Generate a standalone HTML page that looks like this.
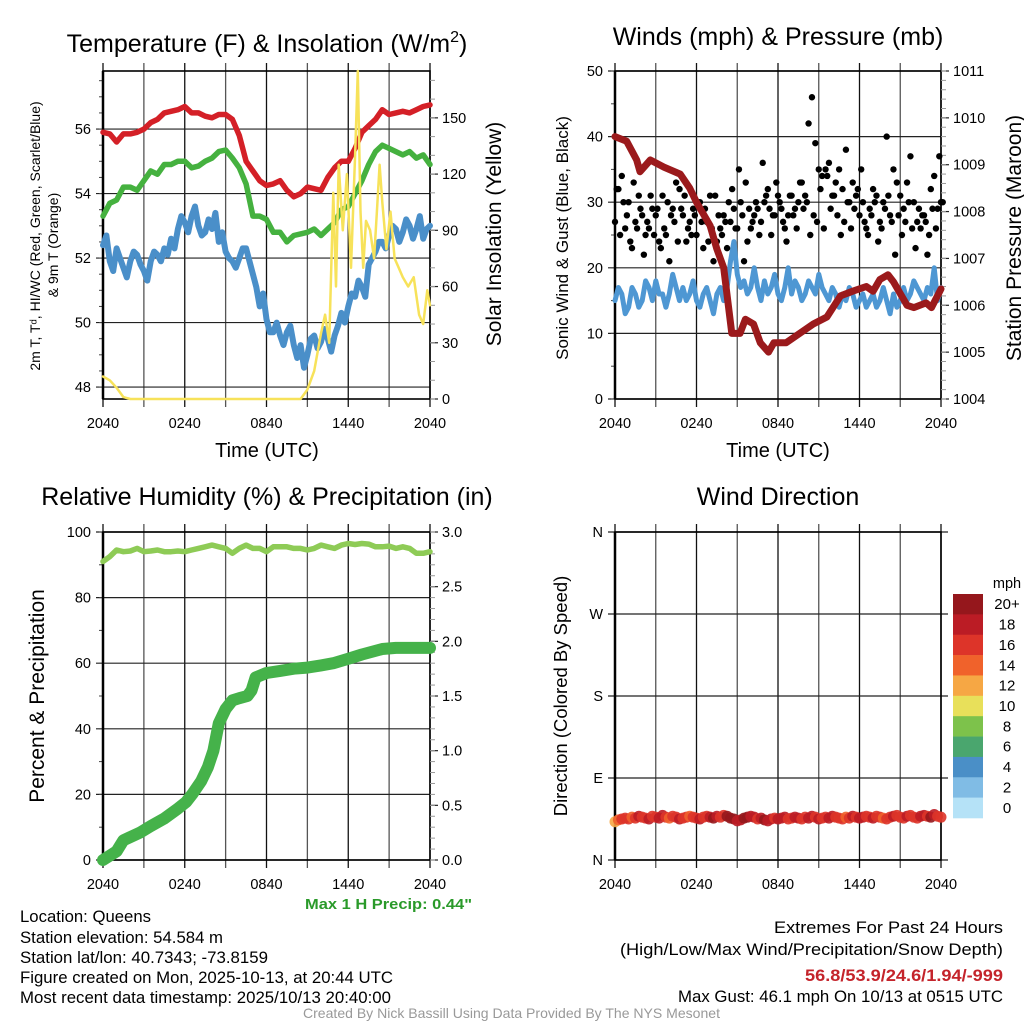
<!DOCTYPE html>
<html><head><meta charset="utf-8">
<style>
html,body{margin:0;padding:0;background:#fff;}
#wrap{position:relative;width:1024px;height:1024px;overflow:hidden;font-family:"Liberation Sans",sans-serif;}
svg text{font-family:"Liberation Sans",sans-serif;}
</style></head>
<body>
<div id="wrap">
<svg id="chart" width="1024" height="1024" xmlns="http://www.w3.org/2000/svg"></svg>
</div>
<script>
// ---------- DATA ----------
const xTickLabels = ["2040","0240","0840","1440","2040"];
// evenly spaced series over 24 h starting at 2040 UTC
const tempRed = [55.9,55.85,55.6,55.85,55.85,55.9,56.0,56.2,56.3,56.5,56.55,56.6,56.7,56.5,56.5,56.4,56.35,56.45,56.45,56.3,55.8,55.0,54.7,54.4,54.25,54.3,54.4,54.1,53.9,54.0,54.2,54.15,54.1,54.5,54.8,55.0,55.0,55.4,55.9,56.1,56.3,56.6,56.45,56.5,56.55,56.5,56.6,56.7,56.75];
const hiGreen = [53.3,53.7,53.8,54.2,54.2,54.1,54.4,54.7,54.6,54.9,54.9,55.0,55.0,54.8,54.85,55.0,55.1,55.3,55.35,55.1,54.8,54.3,53.3,53.3,53.2,52.8,52.8,52.5,52.7,52.75,52.8,52.9,52.7,52.9,53.1,53.5,53.6,54.0,54.4,54.9,55.3,55.5,55.4,55.3,55.2,55.3,55.1,55.2,54.9];
const dewBlue = [52.4,52.7,51.9,51.6,52.3,52.0,51.7,51.4,51.9,52.2,52.1,51.8,51.6,51.3,51.9,52.2,52.1,51.9,52.3,52.1,52.6,52.3,52.9,53.3,53.1,52.8,53.3,53.6,53.0,52.7,52.8,53.2,52.9,53.4,52.5,52.8,52.2,52.0,51.9,51.7,52.0,52.3,52.3,51.9,51.5,51.1,50.5,50.9,50.1,49.7,49.7,50.0,49.6,49.3,49.7,49.9,49.3,48.9,49.3,48.6,49.0,49.5,49.6,49.2,49.4,49.8,49.5,49.1,49.6,49.9,50.3,50.0,50.5,50.9,50.8,51.3,51.1,50.8,51.8,52.0,52.2,52.5,52.5,52.3,52.7,53.0,52.9,52.5,52.8,53.2,53.0,52.6,52.9,53.3,52.6,52.9,53.0];
const solarTimes = [0,0.5,1,1.5,2,14.5,15,15.5,16,16.3,16.6,16.9,17.1,17.3,17.6,17.9,18.2,18.5,18.7,18.9,19.1,19.3,19.6,19.9,20.1,20.3,20.5,20.8,21.1,21.4,21.7,22.0,22.4,22.8,23.2,23.5,23.8,24];
const solarVals  = [12,10,6,1,0,0,5,15,35,45,30,110,60,125,90,120,70,130,175,100,70,95,90,75,100,125,105,80,100,75,70,65,60,65,45,40,58,50];
const sonicWind = [15,17,16,13,14,17,16,14,15,18,17,15,18,16,16,14,16,19,17,15,17,15,16,18,15,14,16,17,15,13,16,17,15,17,21,24,19,17,18,16,17,20,17,15,18,16,17,19,16,15,17,20,16,18,17,15,16,18,17,16,19,17,16,15,17,16,14,16,15,17,16,14,15,16,14,15,16,14,15,17,15,13,16,14,15,17,15,16,18,17,16,15,17,16,20,15,17];
const presTimes = [0,0.86,1.6,1.84,2.6,3.6,4.8,5.5,6.0,7.0,7.5,8.0,8.6,9.2,9.6,10.2,10.7,11.3,11.7,12.6,13.6,14.6,15.6,16.6,17.5,18.5,19,19.5,20.1,20.5,21.5,22,22.9,23.3,24];
const presVals  = [1009.6,1009.5,1009.1,1008.85,1009.1,1008.95,1008.8,1008.5,1008.2,1007.7,1007.2,1006.8,1005.4,1005.4,1005.7,1005.6,1005.2,1005.0,1005.2,1005.2,1005.4,1005.6,1005.75,1006.2,1006.3,1006.4,1006.3,1006.55,1006.65,1006.5,1006.0,1005.95,1006.05,1005.95,1006.35];
const gusts = [27,32,34,26,30,23,27,31,28,25,26,29,28,24,31,25,21,29,33,32,28,24,27,29,25,30,23,27,31,21,24,26,28,23,27,29,26,30,21,24,26,28,29,27,30,32,25,28,31,29,26,28,31,29,30,33,31,42,46,39,35,34,35,36,31,33,35,32,38,30,33,31,28,30,26,29,32,31,27,30,40,28,35,33,31,29,33,37,30,27,26,28,22,32,34,29,30];
const gustsB = [32,25,30,28,24,33,26,29,22,27,31,25,29,23,26,30,28,27,24,29,31,26,25,28,30,27,29,24,26,31,28,25,27,30,32,26,35,28,33,29,27,30,25,36,31,29,28,33,30,27,24,31,28,26,33,29,30,25,28,27,32,26,34,29,31,28,25,27,30,26,29,32,35,27,25,28,30,24,26,29,31,27,22,28,25,27,30,26,23,29,28,27,25,29,26,37,30];
const rhVals = [91,92.5,94.5,94,94.2,95,94,94.2,94.5,94,94,94.2,94,94.5,95,95.5,96,95.5,95,93.5,95,96,95,95,94,95.5,95.5,95.5,95,95,94.5,95,96,95.5,95,96,96.5,96.2,96.5,96.3,95.5,95.5,95.7,95,95.5,95,93.5,93.5,94];
const precipTimes = [0,1,1.5,2.7,3.5,4.5,5.5,6.1,6.6,7.2,7.7,8.1,8.5,9.0,9.5,10,10.6,10.9,11.2,12,13,14,15,16,16.9,18,19,20.5,21.5,24];
const precipVals  = [0,0.08,0.18,0.25,0.31,0.38,0.47,0.53,0.61,0.72,0.85,1.0,1.25,1.38,1.46,1.48,1.5,1.55,1.67,1.71,1.73,1.75,1.76,1.78,1.8,1.84,1.88,1.93,1.94,1.94];
const windDir = [42,44,45,46,45,47,46,48,47,46,45,48,47,46,49,47,46,48,47,45,46,47,48,47,46,45,47,48,47,46,48,47,49,48,46,45,43,44,46,47,48,47,45,46,44,43,45,46,45,46,47,45,46,47,46,45,47,46,48,47,45,46,47,46,48,47,46,45,47,46,48,47,46,47,48,47,46,48,47,46,45,47,48,49,47,46,48,49,47,46,48,49,48,47,50,48,47];
const windSpd = [12,15,16,17,16,15,16,18,17,16,18,17,16,19,18,17,15,16,17,18,16,17,15,16,17,18,16,17,19,20,18,17,16,20,21,20,19,18,21,20,19,18,17,19,20,18,19,17,18,19,18,17,16,18,19,17,16,18,19,17,18,16,17,19,18,17,16,17,15,16,18,17,19,18,16,17,18,17,16,15,17,16,18,17,16,17,18,16,17,16,18,19,17,20,18,17,16];
const legendLabels = ["20+","18","16","14","12","10","8","6","4","2","0"];
const legendColors = ["#95171c","#bb1c25","#dd3429","#f0622b","#f6a744","#e8e05a","#7dc24b","#4aa66e","#4a8fc7","#80bce5","#b5e2f7"];

// ---------- DRAW ----------
const NS="http://www.w3.org/2000/svg";
const svg=document.getElementById('chart');
function el(tag,attrs,parent,txt){const e=document.createElementNS(NS,tag);for(const k in attrs)e.setAttribute(k,attrs[k]);if(txt!==undefined)e.textContent=txt;(parent||svg).appendChild(e);return e;}
function lin(d0,d1,r0,r1){return v=>r0+(v-d0)/(d1-d0)*(r1-r0);}
function evenTimes(n){const a=[];for(let i=0;i<n;i++)a.push(i*24/(n-1));return a;}

function panel(name,L,R,T,B){
  const g=el('g',{},svg);
  
  
  const x=lin(0,24,L,R);
  return {g,x,L,R,T,B};
}
function frame(p,yTicks,yScale,yLabels,minorStep,yMin,yMax,rightTicks,rScale,rLabels,rMinor,rMin,rMax){
  const g=el('g',{},p.g);
  
  
  for(let i=0;i<=8;i++){const xx=p.x(i*3);
    el('line',{x1:xx,x2:xx,y1:p.T-8,y2:p.B+8,stroke:i%2?'#555':'#111','stroke-width':1.3},g);}
  yTicks.forEach((v,i)=>{const yy=yScale(v);
    el('line',{x1:p.L-7,x2:p.R+(rightTicks?0:7),y1:yy,y2:yy,stroke:'#222','stroke-width':1.2},g);
    el('text',{x:p.L-12,y:yy+5,'text-anchor':'end','font-size':14.5,fill:'#000'},g,yLabels[i]);});
  if(minorStep){for(let v=yMin;v<=yMax+1e-9;v+=minorStep){const yy=yScale(v);el('line',{x1:p.L-4,x2:p.L,y1:yy,y2:yy,stroke:'#444','stroke-width':1},g);}}
  el('rect',{x:p.L,y:p.T,width:p.R-p.L,height:p.B-p.T,fill:'none',stroke:'#000','stroke-width':1.6},g);
  el('line',{x1:p.L,x2:p.L,y1:p.T,y2:p.B,stroke:'#000','stroke-width':2.5},g);
  if(rightTicks){
    rightTicks.forEach((v,i)=>{const yy=rScale(v);
      el('line',{x1:p.R,x2:p.R+8,y1:yy,y2:yy,stroke:'#222','stroke-width':1.2},g);
      el('text',{x:p.R+12,y:yy+5,'font-size':14.5,fill:'#000'},g,rLabels[i]);});
    if(rMinor){for(let v=rMin;v<=rMax+1e-9;v+=rMinor){const yy=rScale(v);el('line',{x1:p.R,x2:p.R+5,y1:yy,y2:yy,stroke:'#999','stroke-width':1},g);}}
  }
  xTickLabels.forEach((t,i)=>{el('text',{x:p.x(i*6),y:p.B+29,'text-anchor':'middle','font-size':14.5,fill:'#000'},g,t);});
}
function path(p,ts,vs,y,color,w,name){
  let d='';ts.forEach((t,i)=>{d+=(i?'L':'M')+p.x(t).toFixed(1)+','+y(vs[i]).toFixed(1);});
  const e=el('path',{d:d,fill:'none',stroke:color,'stroke-width':w,'stroke-linejoin':'round','stroke-linecap':'round'},p.g);
  
  
}
function title(x,y,txt,name,size){const e=el('text',{x:x,y:y,'text-anchor':'middle','font-size':size||25,fill:'#000'},svg,txt);return e;}
function vtitle(x,y,txt,name,size){const e=el('text',{x:0,y:0,transform:`translate(${x},${y}) rotate(-90)`,'text-anchor':'middle','font-size':size,fill:'#000'},svg,txt);return e;}

// Panel 1: temperature
{
 const p=panel('temperature-panel',103,430,71,399);
 const y=lin(47.63,57.8,399,71), ys=lin(0,175,399,71);
 frame(p,[48,50,52,54,56],y,["48","50","52","54","56"],0.5,48,57.5,[0,30,60,90,120,150],ys,["0","30","60","90","120","150"],10,0,170);
 path(p,evenTimes(dewBlue.length),dewBlue,y,'#4a8fc9',6,'dewpoint-line');
 path(p,evenTimes(hiGreen.length),hiGreen,y,'#45b13f',5.5,'heat-index-line');
 path(p,evenTimes(tempRed.length),tempRed,y,'#d42027',5.5,'temperature-line');
 path(p,solarTimes,solarVals,ys,'#f7e25a',2.5,'solar-insolation-line');
 const t=title(267,52,'Temperature (F) & Insolation (W/m','temperature-title');
 el('tspan',{dy:-10,'font-size':16},t,'2');el('tspan',{dy:10},t,')');
 vtitle(40,236,'2m T, T\u1d48, HI/WC (Red, Green, Scarlet/Blue)','temp-y-axis-title',14);
 vtitle(58,245,'& 9m T (Orange)','temp-y-axis-title-2',14);
 vtitle(501,234,'Solar Insolation (Yellow)','solar-y-axis-title',21);
 title(267,457,'Time (UTC)','temp-x-axis-title',20);
}
// Panel 2: winds
{
 const p=panel('winds-panel',615,941,71,399);
 const y=lin(0,50,399,71), yp=lin(1004,1011,399,71);
 frame(p,[0,10,20,30,40,50],y,["0","10","20","30","40","50"],5,0,50,[1004,1005,1006,1007,1008,1009,1010,1011],yp,["1004","1005","1006","1007","1008","1009","1010","1011"],0.2,1004,1011);
 path(p,evenTimes(sonicWind.length),sonicWind,y,'#4e97d3',5,'sonic-wind-line');
 const gt=evenTimes(gusts.length);
 const dg=el('g',{},p.g);
 gusts.forEach((v,i)=>{el('circle',{cx:p.x(gt[i]),cy:y(v),r:3.2,fill:'#000'},dg);});
 gustsB.forEach((v,i)=>{el('circle',{cx:p.x(gt[i])+1.7,cy:y(v),r:3.2,fill:'#000'},dg);});
 path(p,presTimes,presVals,yp,'#9b1a1c',7,'pressure-line');
 title(778,45,'Winds (mph) & Pressure (mb)','winds-title');
 vtitle(568,238,'Sonic Wind & Gust (Blue, Black)','wind-y-axis-title',17);
 vtitle(1021,238,'Station Pressure (Maroon)','pressure-y-axis-title',21);
 title(778,457,'Time (UTC)','winds-x-axis-title',20);
}
// Panel 3: RH & precip
{
 const p=panel('humidity-panel',103,430,532,860);
 const y=lin(0,100,860,532), yr=lin(0,3,860,532);
 frame(p,[0,20,40,60,80,100],y,["0","20","40","60","80","100"],10,0,100,[0,0.5,1,1.5,2,2.5,3],yr,["0.0","0.5","1.0","1.5","2.0","2.5","3.0"],0.1,0,3);
 path(p,evenTimes(rhVals.length),rhVals,y,'#8ecb56',5.5,'relative-humidity-line');
 path(p,precipTimes,precipVals,yr,'#45b24a',12,'precipitation-line');
 title(267,505,'Relative Humidity (%) & Precipitation (in)','humidity-title');
 vtitle(44,696,'Percent & Precipitation','humidity-y-axis-title',21);
 const m=el('text',{x:472,y:909,'text-anchor':'end','font-size':15,'font-weight':'bold',fill:'#2a9a2a',textLength:167,lengthAdjust:'spacingAndGlyphs'},svg,'Max 1 H Precip: 0.44"');
 
}
// Panel 4: wind direction
{
 const p=panel('wind-direction-panel',615,941,532,860);
 const y=lin(0,360,860,532);
 frame(p,[0,90,180,270,360],y,["N","E","S","W","N"],0,0,0);
 function col(s){let idx=Math.floor(s/2);if(idx>10)idx=10;return legendColors[10-idx];}
 const dt=evenTimes(windDir.length);
 const dg=el('g',{},p.g);
 windDir.forEach((v,i)=>{el('circle',{cx:p.x(dt[i]),cy:y(v),r:5.5,fill:col(windSpd[i]),opacity:0.9},dg);});
 title(778,505,'Wind Direction','wind-direction-title');
 vtitle(567,696,'Direction (Colored By Speed)','direction-y-axis-title',18.5);
 const lg=el('g',{},svg);
 el('text',{x:1007,y:588,'text-anchor':'middle','font-size':14.5},lg,'mph');
 const bh=(818-594)/legendColors.length;
 legendColors.forEach((c,i)=>{el('rect',{x:953,y:594+i*bh,width:30,height:bh+0.3,fill:c},lg);
   el('text',{x:1007,y:594+i*bh+bh/2+5,'text-anchor':'middle','font-size':15},lg,legendLabels[i]);});
}
// Footer text
{
 const left=[["Location: Queens",922,131],["Station elevation: 54.584 m",943,203],["Station lat/lon: 40.7343; -73.8159",963,248],["Figure created on Mon, 2025-10-13, at 20:44 UTC",983,373],["Most recent data timestamp: 2025/10/13 20:40:00",1003,371]];
 left.forEach(a=>{const e=el('text',{x:20,y:a[1],'font-size':16.5,textLength:a[2],lengthAdjust:'spacingAndGlyphs'},svg,a[0]);});
 const r=[["Extremes For Past 24 Hours",933,'#000','normal',229],["(High/Low/Max Wind/Precipitation/Snow Depth)",955,'#000','normal',383],["56.8/53.9/24.6/1.94/-999",981,'#c4242b','bold',198],["Max Gust: 46.1 mph On 10/13 at 0515 UTC",1002,'#000','normal',325]];
 r.forEach(a=>{const e=el('text',{x:1003-a[4],y:a[1],'font-size':16.5,fill:a[2],'font-weight':a[3],textLength:a[4],lengthAdjust:'spacingAndGlyphs'},svg,a[0]);});
 const c=el('text',{x:303,y:1018,'font-size':14,fill:'#999',textLength:417,lengthAdjust:'spacingAndGlyphs'},svg,'Created By Nick Bassill Using Data Provided By The NYS Mesonet');
 
}
</script>
</body></html>
